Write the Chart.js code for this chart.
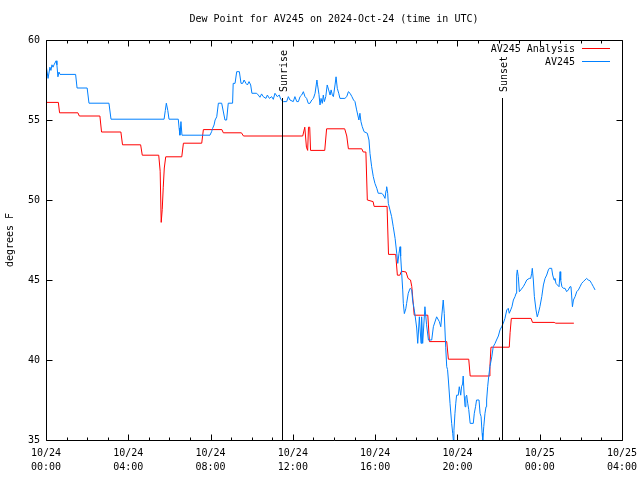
<!DOCTYPE html>
<html>
<head>
<meta charset="utf-8">
<script src="https://cdn.jsdelivr.net/npm/chart.js@4/dist/chart.umd.min.js"></script>
<style>
  html, body { margin: 0; padding: 0; background: #fff; }
</style>
</head>
<body>
<canvas id="chart" width="640" height="480"></canvas>
<script>
// hours since 2024-10-24 00:00 UTC
const analysisHours = [
  0.00, 0.60, 0.66, 1.55, 1.62, 2.62, 2.70, 3.64, 3.72, 4.60, 4.68, 5.48,
  5.55, 5.60, 5.65, 5.70, 5.75, 5.82, 6.60, 6.68, 7.57, 7.65, 8.55, 8.62,
  9.50, 9.60, 12.48, 12.58, 12.66, 12.72, 12.76, 12.82, 12.86, 13.55, 13.64, 14.52,
  14.62, 14.70, 15.35, 15.42, 15.55, 15.62, 15.90, 15.95, 16.58, 16.65, 17.00, 17.08,
  17.20, 17.28, 17.50, 17.60, 17.72, 17.78, 17.90, 18.56, 18.64, 19.48, 19.56, 20.55,
  20.62, 21.55, 21.58, 21.63, 22.52, 22.56, 22.62, 23.58, 23.65, 24.70, 24.78, 25.66
];
const analysisValues = [
  56.1, 56.1, 55.45, 55.45, 55.25, 55.25, 54.25, 54.25, 53.45, 53.45, 52.8, 52.8,
  51.8, 48.6, 49.4, 50.8, 52.0, 52.7, 52.7, 53.55, 53.55, 54.4, 54.4, 54.2,
  54.2, 54.0, 54.0, 54.55, 53.3, 53.1, 54.55, 54.55, 53.1, 53.1, 54.45, 54.45,
  54.0, 53.2, 53.2, 53.0, 53.0, 50.0, 49.9, 49.6, 49.6, 46.6, 46.6, 45.3,
  45.3, 45.55, 45.5, 45.1, 45.0, 44.6, 42.8, 42.8, 41.15, 41.15, 40.05, 40.05,
  39.0, 39.0, 39.6, 40.8, 40.8, 41.7, 42.6, 42.6, 42.35, 42.35, 42.3, 42.3
];

const stationHours = [
  0.02, 0.10, 0.19, 0.24, 0.29, 0.34, 0.39, 0.49, 0.53, 0.58, 0.63, 0.68,
  1.44, 1.51, 2.00, 2.09, 3.06, 3.16, 5.74, 5.80, 5.85, 5.92, 5.98, 6.43,
  6.47, 6.51, 6.56, 6.61, 7.97, 8.05, 8.10, 8.17, 8.22, 8.30, 8.38, 8.54,
  8.70, 8.78, 8.86, 9.07, 9.10, 9.19, 9.27, 9.40, 9.48, 9.56, 9.63, 9.72,
  9.79, 9.87, 9.95, 10.01, 10.24, 10.32, 10.40, 10.48, 10.56, 10.69, 10.76, 10.86,
  10.97, 11.05, 11.13, 11.24, 11.34, 11.41, 11.54, 11.70, 11.78, 11.86, 12.02, 12.10,
  12.19, 12.27, 12.35, 12.43, 12.51, 12.59, 12.67, 12.75, 12.83, 12.92, 13.00, 13.08,
  13.17, 13.20, 13.27, 13.32, 13.37, 13.43, 13.48, 13.53, 13.60, 13.67, 13.74, 13.81,
  13.86, 13.92, 13.97, 14.05, 14.10, 14.16, 14.23, 14.29, 14.53, 14.62, 14.70, 14.78,
  14.87, 14.95, 15.02, 15.10, 15.21, 15.26, 15.31, 15.37, 15.46, 15.62, 15.70, 15.75,
  15.83, 15.91, 15.99, 16.08, 16.15, 16.32, 16.40, 16.48, 16.53, 16.56, 16.61, 16.64,
  16.72, 16.80, 16.88, 16.97, 17.05, 17.10, 17.16, 17.21, 17.24, 17.29, 17.34, 17.37,
  17.42, 17.49, 17.53, 17.61, 17.70, 17.78, 17.82, 17.89, 17.94, 18.02, 18.07, 18.15,
  18.23, 18.26, 18.31, 18.42, 18.50, 18.59, 18.75, 18.83, 18.99, 19.12, 19.19, 19.31,
  19.36, 19.43, 19.48, 19.52, 19.56, 19.64, 19.72, 19.77, 19.80, 19.83, 19.88, 19.92,
  19.96, 20.04, 20.09, 20.16, 20.20, 20.25, 20.28, 20.32, 20.37, 20.41, 20.45, 20.50,
  20.55, 20.62, 20.77, 20.82, 20.88, 20.93, 21.05, 21.10, 21.15, 21.20, 21.23, 21.28,
  21.34, 21.39, 21.42, 21.47, 21.52, 21.58, 21.67, 21.74, 21.83, 21.90, 21.99, 22.07,
  22.15, 22.23, 22.31, 22.40, 22.47, 22.52, 22.59, 22.65, 22.72, 22.80, 22.85, 22.88,
  22.91, 22.96, 23.01, 23.08, 23.20, 23.29, 23.37, 23.49, 23.56, 23.61, 23.64, 23.69,
  23.74, 23.82, 23.88, 23.93, 24.01, 24.10, 24.18, 24.26, 24.34, 24.42, 24.47, 24.58,
  24.63, 24.70, 24.74, 24.79, 24.86, 24.94, 24.99, 25.02, 25.08, 25.15, 25.23, 25.31,
  25.39, 25.47, 25.52, 25.55, 25.59, 25.64, 25.72, 25.80, 25.88, 25.96, 26.04, 26.12,
  26.20, 26.28, 26.36, 26.44, 26.52, 26.61, 26.69
];
const stationValues = [
  58.3, 57.6, 58.3, 58.1, 58.45, 58.3, 58.45, 58.7, 58.45, 57.7, 58.0, 57.85,
  57.85, 57.0, 57.0, 56.05, 56.05, 55.05, 55.05, 55.6, 56.05, 55.6, 55.05, 55.05,
  54.5, 54.05, 54.9, 54.05, 54.05, 54.27, 54.48, 54.69, 55.0, 55.2, 56.05, 56.05,
  55.0, 55.0, 56.05, 56.05, 57.29, 57.29, 58.02, 58.02, 57.29, 57.29, 57.5, 57.29,
  57.19, 57.4, 57.19, 56.67, 56.67, 56.56, 56.42, 56.63, 56.46, 56.35, 56.56, 56.35,
  56.46, 56.29, 56.67, 56.46, 56.56, 56.29, 56.15, 56.15, 56.46, 56.25, 56.15, 56.46,
  56.15, 56.15, 56.46, 56.56, 56.77, 56.46, 56.35, 56.04, 56.04, 56.25, 56.35, 56.67,
  57.5, 57.2, 56.6, 55.94, 56.35, 56.04, 56.56, 56.15, 56.46, 57.19, 56.88, 56.56,
  56.88, 56.56, 56.46, 57.19, 57.7, 56.98, 56.67, 56.35, 56.35, 56.46, 56.77, 56.67,
  56.46, 56.25, 56.15, 55.63, 55.0, 55.42, 54.9, 54.6, 54.27, 54.17, 53.75, 52.9,
  52.08, 51.46, 51.04, 50.73, 50.42, 50.42, 50.31, 50.1, 50.6, 50.83, 50.42, 49.79,
  49.38, 48.96, 48.33, 47.6, 46.67, 46.04, 46.67, 47.08, 46.5, 45.42, 44.38, 43.54,
  42.9, 43.2, 43.54, 44.17, 44.48, 44.38, 43.75, 43.23, 42.8, 42.0, 41.04, 42.7,
  41.04, 42.7, 41.04, 43.33, 42.2, 41.25, 41.25, 42.08, 42.7, 42.4, 42.08, 43.75,
  42.9, 40.8, 39.58, 39.4, 38.75, 37.29, 36.04, 35.42, 35.0, 35.6, 36.67, 37.3,
  37.8, 37.8, 38.33, 37.8, 38.33, 38.5, 39.0, 38.0, 37.08, 37.7, 37.8, 37.3,
  36.9, 36.04, 36.04, 36.67, 37.08, 37.5, 37.5, 36.67, 36.46, 35.42, 35.0, 35.83,
  36.67, 37.08, 37.5, 38.33, 38.96, 39.58, 40.2, 40.83, 41.04, 41.25, 41.5, 41.88,
  42.08, 42.3, 42.6, 43.13, 43.23, 42.92, 43.13, 43.33, 43.75, 43.96, 44.17, 45.31,
  45.63, 45.21, 44.27, 44.38, 44.58, 44.79, 45.0, 45.1, 45.1, 45.42, 45.73, 45.0,
  43.96, 43.13, 42.7, 42.9, 43.33, 43.96, 44.69, 45.1, 45.31, 45.63, 45.73, 45.73,
  45.31, 45.0, 45.1, 44.79, 44.69, 44.58, 45.52, 45.0, 44.58, 44.48, 44.48, 44.27,
  44.38, 44.58, 44.58, 44.06, 43.33, 43.75, 43.96, 44.27, 44.38, 44.58, 44.79, 44.9,
  45.0, 45.1, 45.0, 44.96, 44.79, 44.58, 44.38
];

const seriesNames = ['AV245 Analysis', 'AV245'];
const seriesColors = ['#ff0000', '#0080ff'];
const xTickLabels = [
  ['10/24', '00:00'], ['10/24', '04:00'], ['10/24', '08:00'], ['10/24', '12:00'],
  ['10/24', '16:00'], ['10/24', '20:00'], ['10/25', '00:00'], ['10/25', '04:00']
];
const yTickValues = [35, 40, 45, 50, 55, 60];
const eventHours = [11.47, 22.17];
const eventLabels = ['Sunrise', 'Sunset'];

const FONT = '10px "DejaVu Sans Mono", monospace';

function toPoints(xs, ys) {
  return xs.map((h, i) => ({ x: h, y: ys[i] }));
}

// gnuplot style frame: box, inward ticks, sun markers, key and title
const gnuplotFrame = {
  id: 'gnuplotFrame',
  afterDraw(chart) {
    const { ctx, chartArea: a, scales } = chart;
    const xs = scales.x;
    const ys = scales.y;
    const px = v => Math.round(xs.getPixelForValue(v)) + 0.5;
    const py = v => Math.round(ys.getPixelForValue(v)) + 0.5;
    const left = Math.round(a.left) + 0.5;
    const right = Math.round(a.right) + 0.5;
    const top = Math.round(a.top) + 0.5;
    const bottom = Math.round(a.bottom) + 0.5;

    ctx.save();
    ctx.strokeStyle = '#000';
    ctx.lineWidth = 1;
    ctx.beginPath();
    ctx.rect(left, top, right - left, bottom - top);

    for (let h = xs.min; h <= xs.max; h++) {
      const len = h % 4 === 0 ? 6 : 3;
      const x = px(h);
      ctx.moveTo(x, bottom); ctx.lineTo(x, bottom - len);
      ctx.moveTo(x, top); ctx.lineTo(x, top + len);
    }
    yTickValues.forEach(v => {
      const y = py(v);
      ctx.moveTo(left, y); ctx.lineTo(left + 6, y);
      ctx.moveTo(right, y); ctx.lineTo(right - 6, y);
    });
    eventHours.forEach(h => {
      const x = px(h);
      ctx.moveTo(x, 98); ctx.lineTo(x, bottom);
    });
    ctx.stroke();

    ctx.fillStyle = '#000';
    ctx.font = FONT;
    // sunrise / sunset labels, rotated
    eventHours.forEach((h, i) => {
      ctx.save();
      ctx.translate(px(h) + 1.5, 92);
      ctx.rotate(-Math.PI / 2);
      ctx.textAlign = 'left';
      ctx.textBaseline = 'middle';
      ctx.fillText(eventLabels[i], 0, 0);
      ctx.restore();
    });

    // key
    ctx.textAlign = 'right';
    ctx.textBaseline = 'middle';
    seriesNames.forEach((name, i) => {
      const y = 49 + i * 13;
      ctx.fillText(name, 575, y);
      ctx.strokeStyle = seriesColors[i];
      ctx.beginPath();
      ctx.moveTo(582, y - 0.5);
      ctx.lineTo(610, y - 0.5);
      ctx.stroke();
    });

    // title
    ctx.textAlign = 'center';
    ctx.fillText('Dew Point for AV245 on 2024-Oct-24 (time in UTC)', (a.left + a.right) / 2, 19);
    ctx.restore();
  }
};

new Chart(document.getElementById('chart'), {
  type: 'line',
  data: {
    datasets: [
      {
        label: seriesNames[0],
        data: toPoints(analysisHours, analysisValues),
        borderColor: seriesColors[0],
        borderWidth: 1,
        pointRadius: 0,
        tension: 0,
        order: 1,
      },
      {
        label: seriesNames[1],
        data: toPoints(stationHours, stationValues),
        borderColor: seriesColors[1],
        borderWidth: 1,
        pointRadius: 0,
        tension: 0,
        order: 0,
      },
    ],
  },
  options: {
    responsive: false,
    animation: false,
    devicePixelRatio: 1,
    layout: { padding: { top: 40, right: 18, left: 0, bottom: 0 } },
    plugins: {
      legend: { display: false },
      tooltip: { enabled: false },
    },
    scales: {
      x: {
        type: 'linear',
        min: 0,
        max: 28,
        afterFit: s => { s.height = 40; s.paddingLeft = 0; s.paddingRight = 0; },
        grid: { display: false, drawTicks: false },
        border: { display: false },
        ticks: {
          stepSize: 4,
          padding: 6,
          maxRotation: 0,
          color: '#000',
          font: { family: '"DejaVu Sans Mono", monospace', size: 10, lineHeight: 1.4 },
          callback: (v) => xTickLabels[Math.round(v / 4)],
        },
      },
      y: {
        min: 35,
        max: 60,
        afterFit: s => { s.width = 46; s.paddingTop = 0; s.paddingBottom = 0; },
        grid: { display: false, drawTicks: false },
        border: { display: false },
        ticks: {
          stepSize: 5,
          padding: 6,
          color: '#000',
          font: { family: '"DejaVu Sans Mono", monospace', size: 10 },
        },
        title: {
          display: true,
          text: 'degrees F',
          color: '#000',
          padding: { top: 4, bottom: 0 },
          font: { family: '"DejaVu Sans Mono", monospace', size: 10 },
        },
      },
    },
  },
  plugins: [gnuplotFrame],
});
</script>
</body>
</html>
